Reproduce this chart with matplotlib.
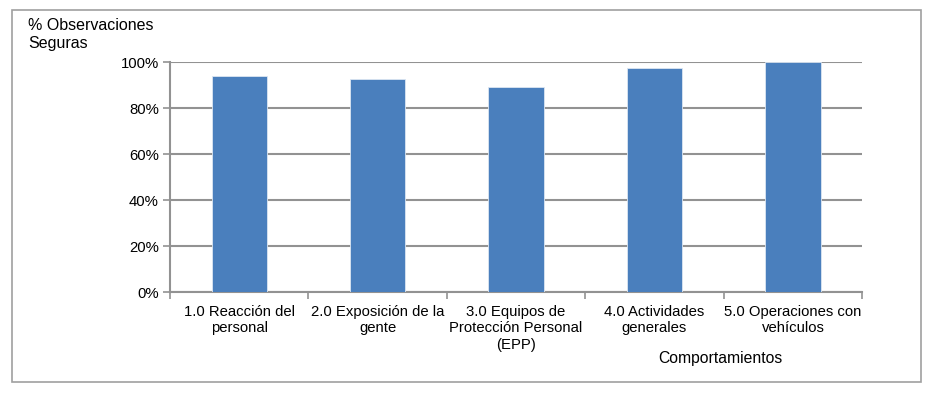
import matplotlib
matplotlib.use("Agg")
import matplotlib.pyplot as plt
from matplotlib.patches import Rectangle
from matplotlib.ticker import FuncFormatter

plt.rcParams['font.family'] = ['Liberation Sans', 'DejaVu Sans']

categories = ["1.0 Reacción del\npersonal", "2.0 Exposición de la\ngente",
              "3.0 Equipos de\nProtección Personal\n(EPP)", "4.0 Actividades\ngenerales",
              "5.0 Operaciones con\nvehículos"]
values = [93.9, 92.5, 89.3, 97.5, 100.0]
yticks = [0, 20, 40, 60, 80, 100]

fig = plt.figure(figsize=(9.3, 3.96), dpi=100)
fig.patches.append(Rectangle((0.0129, 0.0354), 0.9774, 0.939, transform=fig.transFigure,
                             fill=False, edgecolor="#a0a0a0", linewidth=1.2))

ax = fig.add_axes([0.1828, 0.2626, 0.7442, 0.5808])
x = range(len(categories))
ax.bar(x, values, width=0.4, color="#4A7FBD", edgecolor="#dce6f2", linewidth=0.6, zorder=3)

ax.set_xlim(-0.5, len(categories) - 0.5)
ax.set_ylim(0, 100)
ax.set_yticks(yticks)
ax.yaxis.set_major_formatter(FuncFormatter(lambda v, p: f"{v:.0f}%"))
ax.yaxis.grid(True, color="#929292", linewidth=1.5, zorder=0)

ax.set_xticks(list(x))
ax.set_xticklabels(categories, fontsize=10.7, linespacing=1.25)
ax.set_xticks([i - 0.5 for i in range(len(categories) + 1)], minor=True)
ax.tick_params(axis="x", which="major", length=0, pad=9)
ax.tick_params(axis="x", which="minor", length=5, color="#929292", width=1.2)
ax.tick_params(axis="y", length=5, color="#929292", width=1.2, labelsize=10.7, pad=3)

for side in ["top", "right"]:
    ax.spines[side].set_visible(False)
ax.spines["left"].set_color("#929292")
ax.spines["left"].set_linewidth(1.5)
ax.spines["bottom"].set_color("#929292")
ax.spines["bottom"].set_linewidth(1.5)

fig.text(28 / 930, 1 - 18 / 396, "% Observaciones\nSeguras", ha="left", va="top",
         fontsize=11.5, linespacing=1.25)
fig.text(720 / 930, 1 - 358 / 396, "Comportamientos", ha="center", va="center", fontsize=11.3)

fig.savefig("out.png", dpi=100)
